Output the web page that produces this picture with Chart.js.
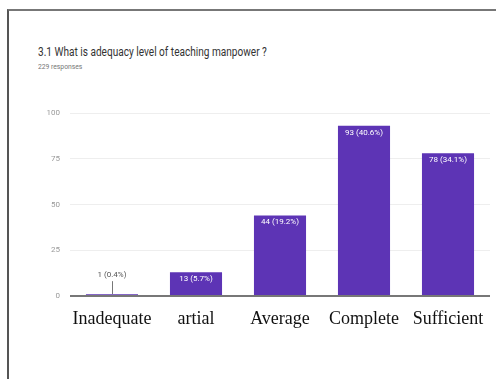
<!DOCTYPE html>
<html>
<head>
<meta charset="utf-8">
<script src="https://cdn.jsdelivr.net/npm/chart.js@4"></script>
<style>
  html, body { margin: 0; padding: 0; background: #fff; overflow: hidden; }
  #wrap { position: relative; width: 496px; height: 379px; overflow: hidden; }
  #frame { position: absolute; left: 7px; top: 9px; width: 600px; height: 500px;
           border-left: 2px solid #555; border-top: 2px solid #777; }
  #title { position: absolute; left: 38px; top: 45px; font: 12px Roboto, sans-serif; color: #333;
           transform: scaleX(0.84); transform-origin: left top; white-space: nowrap; }
  #sub { position: absolute; left: 38px; top: 62px; font: 7.5px Roboto, sans-serif; color: #777;
         transform: scaleX(0.9); transform-origin: left top; white-space: nowrap; }
  canvas { position: absolute; left: 0; top: 0; }
</style>
</head>
<body>
<div id="wrap">
  <div id="frame"></div>
  <div id="title">3.1 What is adequacy level of teaching manpower ?</div>
  <div id="sub">229 responses</div>
  <canvas id="chart" width="496" height="379"></canvas>
</div>
<script>
// Chart data
const categories = ['Inadequate', 'artial', 'Average', 'Complete', 'Sufficient'];
const counts = [1, 13, 44, 93, 78];
const percents = ['0.4%', '5.7%', '19.2%', '40.6%', '34.1%'];
const yTicks = [0, 25, 50, 75, 100];

const barColor = '#5d34b5';

// Draw "n (p%)" labels at the top of each bar
const valueLabels = {
    id: 'valueLabels',
    afterDatasetsDraw(chart) {
        const ctx = chart.ctx;
        const meta = chart.getDatasetMeta(0);
        ctx.save();
        ctx.font = '8px Roboto, sans-serif';
        ctx.textAlign = 'center';
        ctx.textBaseline = 'middle';
        meta.data.forEach(function(bar, i) {
            const text = counts[i] + ' (' + percents[i] + ')';
            const h = bar.base - bar.y;
            if (h > 16) {
                ctx.fillStyle = '#ffffff';
                ctx.fillText(text, bar.x, bar.y + 7);
            } else {
                ctx.fillStyle = '#555';
                ctx.fillText(text, bar.x, bar.y - 19);
                ctx.strokeStyle = '#777';
                ctx.lineWidth = 1;
                ctx.beginPath();
                ctx.moveTo(Math.round(bar.x) + 0.5, bar.y - 13);
                ctx.lineTo(Math.round(bar.x) + 0.5, bar.y);
                ctx.stroke();
            }
        });
        ctx.restore();
    }
};

new Chart(document.getElementById('chart'), {
    type: 'bar',
    data: {
        labels: categories,
        datasets: [{
            data: counts,
            backgroundColor: barColor,
            borderWidth: 0,
            categoryPercentage: 1,
            barPercentage: 0.62
        }]
    },
    options: {
        responsive: false,
        animation: false,
        events: [],
        layout: { padding: { left: 0, right: 6, top: 113, bottom: 0 } },
        plugins: { legend: { display: false }, tooltip: { enabled: false } },
        scales: {
            x: {
                grid: { display: false, drawTicks: false },
                border: { display: false },
                ticks: {
                    color: '#111',
                    font: { family: "'Liberation Serif', 'Times New Roman', serif", size: 18 },
                    padding: 12,
                    maxRotation: 0,
                    autoSkip: false
                },
                afterFit: function(scale) { scale.height = 83; }
            },
            y: {
                min: 0,
                max: 100,
                afterBuildTicks: function(scale) {
                    scale.ticks = yTicks.map(function(v) { return { value: v }; });
                },
                grid: {
                    color: function(c) { return c.tick && c.tick.value === 0 ? '#777' : '#eeeeee'; },
                    lineWidth: function(c) { return c.tick && c.tick.value === 0 ? 2 : 1; },
                    drawTicks: false
                },
                border: { display: false },
                ticks: {
                    color: '#999',
                    font: { family: 'Roboto, sans-serif', size: 8 },
                    padding: 10
                },
                afterFit: function(scale) { scale.width = 70; }
            }
        }
    },
    plugins: [valueLabels]
});
</script>
</body>
</html>
